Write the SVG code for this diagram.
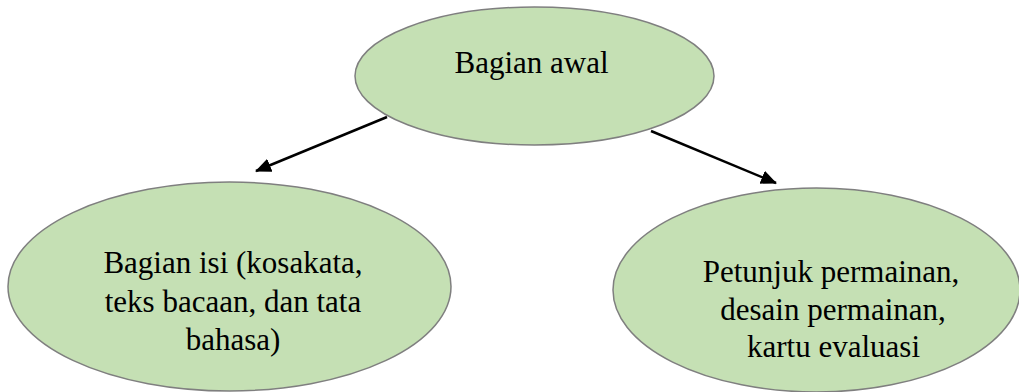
<svg xmlns="http://www.w3.org/2000/svg" width="1019" height="392" viewBox="0 0 1019 392">
  <style>
    .node { fill: #C5E0B4; stroke: #7F7F7F; stroke-width: 1.5; }
    text { font-family: "Liberation Serif", Tinos, "Times New Roman", Times, "DejaVu Serif", "Noto Serif", serif; font-size: 31px; fill: #000; text-anchor: middle; }
    .conn { stroke: #000; stroke-width: 2.5; fill: none; marker-end: url(#arrow); }
  </style>
  <defs>
    <marker id="arrow" markerUnits="userSpaceOnUse" markerWidth="16" markerHeight="14" viewBox="0 0 16 14" refX="15" refY="7" orient="auto">
      <path d="M0,0 L16,7 L0,14 z" fill="#000"/>
    </marker>
  </defs>
  <rect width="1019" height="392" fill="#fff"/>
  <g id="connectors">
    <line class="conn" x1="387" y1="117" x2="256" y2="171"/>
    <line class="conn" x1="651" y1="131" x2="776" y2="183"/>
  </g>
  <g id="node-top">
    <ellipse class="node" cx="534.5" cy="76" rx="179.5" ry="69"/>
    <text x="531.5" y="73">Bagian awal</text>
  </g>
  <g id="node-left">
    <ellipse class="node" cx="229.5" cy="286.5" rx="221.5" ry="104.5"/>
    <text x="233" y="273">Bagian isi (kosakata,</text>
    <text x="233" y="312">teks bacaan, dan tata</text>
    <text x="233" y="350">bahasa)</text>
  </g>
  <g id="node-right">
    <ellipse class="node" cx="816.5" cy="290" rx="203.5" ry="102"/>
    <text x="831" y="282">Petunjuk permainan,</text>
    <text x="833" y="320">desain permainan,</text>
    <text x="833.5" y="357">kartu evaluasi</text>
  </g>
</svg>
